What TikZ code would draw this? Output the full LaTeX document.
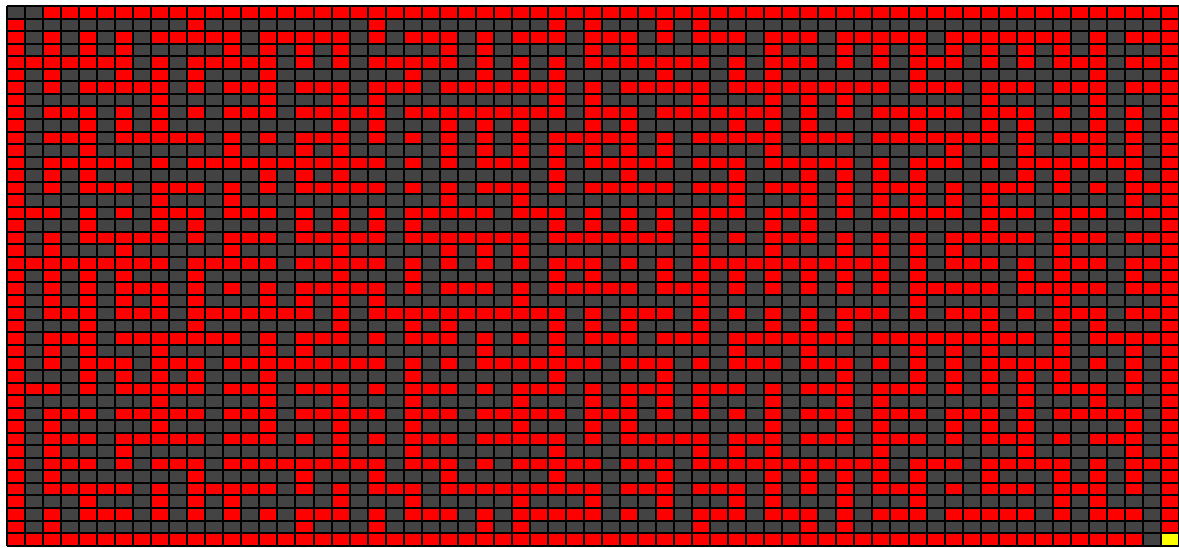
\documentclass[tikz,border=0pt]{standalone}
\definecolor{mazered}{HTML}{FF0000}
\definecolor{mazedark}{HTML}{434343}
\definecolor{mazeyel}{HTML}{FFFF00}
\begin{document}
\begin{tikzpicture}[x=1pt,y=-1pt,
  wall/.style={fill=mazered},
  passage/.style={fill=mazedark},
  goal/.style={fill=mazeyel},
  gridline/.style={draw=black,line width=2pt}]
\def\cw{18.03}\def\ch{12.55}
\useasboundingbox (0,0) rectangle (1179,547);
\fill[white] (0,0) rectangle (1179,547);
\fill[passage] (7,6) rectangle ({7+65*\cw},{6+43*\ch});
% fixed walls (even row, even column)
\foreach \r in {0,2,...,42}{\foreach \c in {0,2,...,64}{\fill[wall] ({7+\c*\cw},{6+\r*\ch}) rectangle ++(\cw,\ch);}}
% border
\foreach \c in {2,...,64}{\fill[wall] ({7+\c*\cw},6) rectangle ++(\cw,\ch);}
\foreach \c in {0,...,62}{\fill[wall] ({7+\c*\cw},{6+42*\ch}) rectangle ++(\cw,\ch);}
\foreach \r in {1,...,41}{\fill[wall] (7,{6+\r*\ch}) rectangle ++(\cw,\ch);
  \fill[wall] ({7+64*\cw},{6+\r*\ch}) rectangle ++(\cw,\ch);}
% variable walls
\foreach \r/\L in {
1/{10,20,30,32,36,38},
2/{9,11,15,17,23,29,33,39,43,47,49,53,55,57,63},
3/{2,4,6,12,14,16,18,24,26,32,34,42,46,48,50,52,54,56,58,60},
4/{1,3,5,11,13,21,23,33,35,37,43,51,59,63},
5/{2,6,8,10,14,22,26,28,30,36,40,42,50,60},
6/{5,7,13,17,21,25,27,29,35,37,41,43,45,47,51,55,59,63},
7/{8,14,18,20,30,32,38,42,44,46,54,60},
8/{3,13,17,19,23,25,27,29,33,37,39,41,49,51,55},
9/{4,6,8,18,20,24,26,28,32,34,40,42,44,50,54,56,60,62},
10/{3,7,9,17,31,33,39,41,45,49,51,53,59},
11/{4,12,16,18,24,26,28,30,32,34,36,42,52,56,60,62},
12/{3,5,11,13,15,17,19,27,33,35,39,43,45,51,57,59,61},
13/{2,4,14,16,18,30,34,40,44,46,48,50,56,58,62},
14/{5,9,17,19,27,33,35,39,43,49,55,63},
15/{8,12,24,28,40,44,46,48,50,52,54,62},
16/{1,9,13,23,25,29,39,43,49,51,55,59,63},
17/{4,8,10,16,18,20,22,30,32,34,36,38,42,44,54,58},
18/{5,7,13,17,19,23,25,27,31,33,35,43,53,55,59,63},
19/{2,6,12,18,24,26,28,38,42,46,48,50,52,58},
20/{1,3,5,7,11,13,17,19,31,39,41,43,45,47,53,59,63},
21/{2,4,6,10,18,22,30,32,36,38,40,42,44,46,48,50,56,58,62},
22/{7,17,19,25,31,33,37,51,53,57,59,63},
23/{2,4,6,8,10,14,16,18,20,28,38,50,58},
24/{3,7,11,13,15,21,23,25,27,29,35,47,53,59,63},
25/{4,10,18,22,24,30,32,34,38,42,44,46,54,58,60},
26/{3,7,9,11,17,23,33,37,41,43,45,49,51,53,55,61,63},
27/{2,4,8,14,16,26,30,40,44,50,52,54,58,62},
28/{5,9,13,15,17,19,27,29,31,35,41,45,55,57},
29/{4,6,8,10,14,22,30,36,46,50,52,54,56,58,62},
30/{1,7,9,13,17,23,29,35,39,45,49,59},
31/{8,14,18,22,28,32,34,36,38,42,46,48,56,60},
32/{3,7,9,13,17,19,23,27,29,33,45,49,53,59,61},
33/{2,8,14,18,22,28,32,34,42,46,48,52,54,56,62},
34/{3,7,9,13,23,27,29,35,37,41,45,49,55,61},
35/{2,6,18,22,30,38,40,42,48,56,62},
36/{3,9,13,15,17,19,23,29,31,35,39,41,43,45,47,51,55,57,63},
37/{2,10,16,20,24,30,36,42,44,46,48,50,54,58,60,62},
38/{3,5,11,13,21,25,27,29,31,35,39,49,55,59},
39/{4,8,10,12,18,22,28,32,36,40,42,46,50,58,60},
40/{5,17,23,29,31,39,43,49,53,55,61},
41/{2,16,20,26,28,38,44,46}}{
  \foreach \c in \L {\fill[wall] ({7+\c*\cw},{6+\r*\ch}) rectangle ++(\cw,\ch);}}
% entrance and goal
\fill[passage] (7,6) rectangle ++(\cw,\ch);
\fill[goal] ({7+64*\cw},{6+42*\ch}) rectangle ++(\cw,\ch);
% grid lines
\foreach \c in {0,...,65}{\draw[gridline] ({7+\c*\cw},6) -- ({7+\c*\cw},{6+43*\ch});}
\foreach \r in {0,...,43}{\draw[gridline] (7,{6+\r*\ch}) -- ({7+65*\cw},{6+\r*\ch});}
\end{tikzpicture}
\end{document}
